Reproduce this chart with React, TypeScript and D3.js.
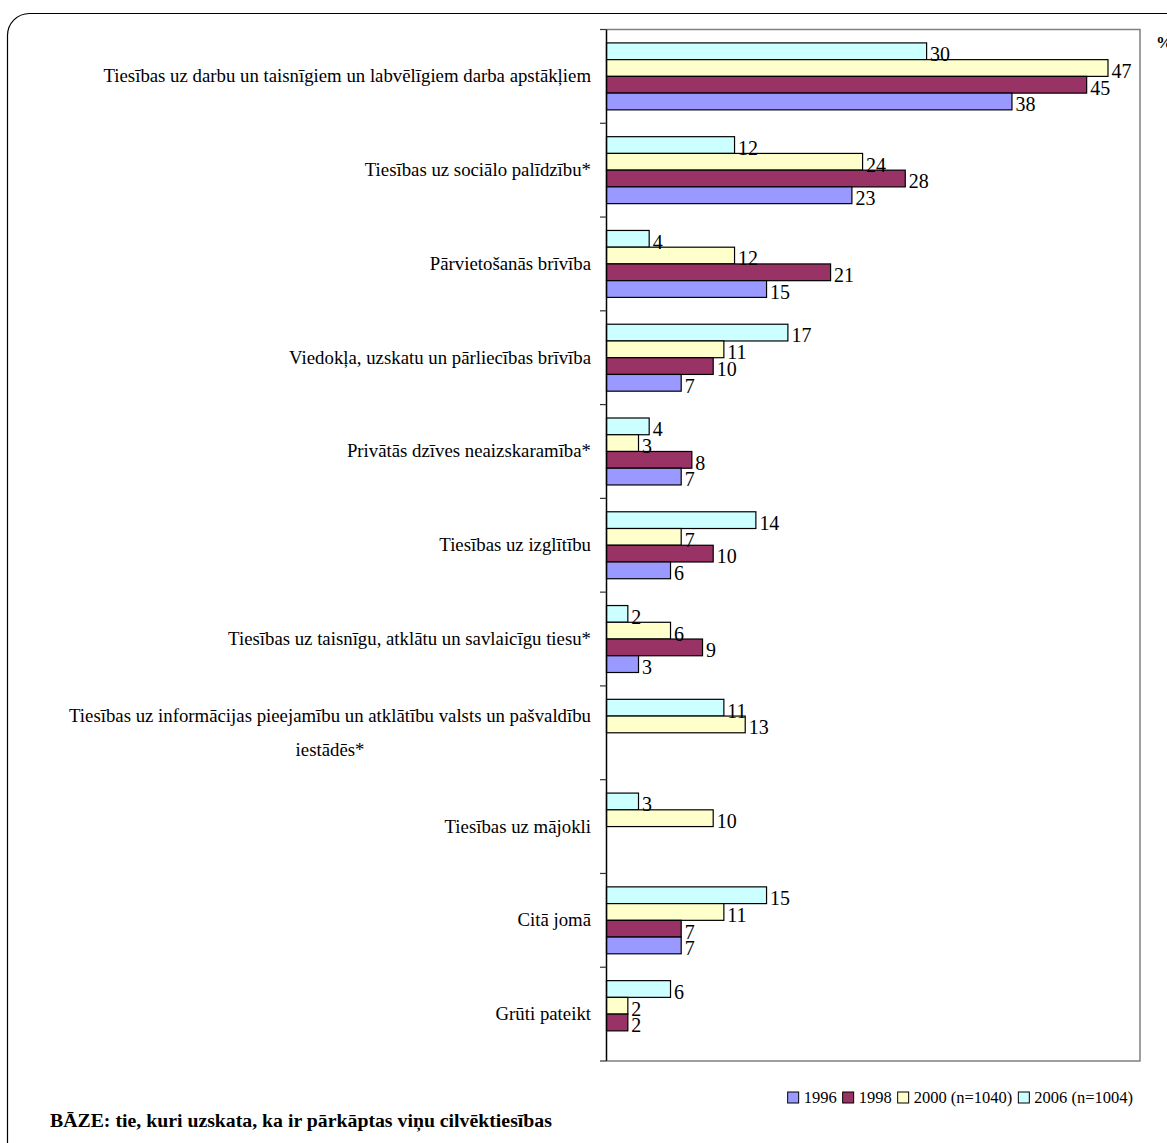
import React, { useEffect, useRef } from "react";
import * as d3 from "d3";

const categories: string[][] = [
  ["Tiesības uz darbu un taisnīgiem un labvēlīgiem darba apstākļiem"],
  ["Tiesības uz sociālo palīdzību*"],
  ["Pārvietošanās brīvība"],
  ["Viedokļa, uzskatu un pārliecības brīvība"],
  ["Privātās dzīves neaizskaramība*"],
  ["Tiesības uz izglītību"],
  ["Tiesības uz taisnīgu, atklātu un savlaicīgu tiesu*"],
  ["Tiesības uz informācijas pieejamību un atklātību valsts un pašvaldību", "iestādēs*"],
  ["Tiesības uz mājokli"],
  ["Citā jomā"],
  ["Grūti pateikt"],
];

const v2006: (number | null)[] = [30, 12, 4, 17, 4, 14, 2, 11, 3, 15, 6];
const v2000: (number | null)[] = [47, 24, 12, 11, 3, 7, 6, 13, 10, 11, 2];
const v1998: (number | null)[] = [45, 28, 21, 10, 8, 10, 9, null, null, 7, 2];
const v1996: (number | null)[] = [38, 23, 15, 7, 7, 6, 3, null, null, 7, null];

const seriesNames = ["2006 (n=1004)", "2000 (n=1040)", "1998", "1996"];
const seriesColors = ["#CCFFFF", "#FFFFCC", "#993366", "#9999FF"];
const seriesValues = [v2006, v2000, v1998, v1996];

const legendOrder = [3, 2, 1, 0];

const xDomain = [0, 50];
const FONT = "'Liberation Serif', 'Times New Roman', serif";

export default function App() {
  const ref = useRef<SVGSVGElement>(null);

  useEffect(() => {
    const svg = d3.select(ref.current);
    svg.selectAll("*").remove();

    const left = 606.5, right = 1140, top = 29.5, bottom = 1061;

    // outer rounded frame
    svg.append("rect")
      .attr("x", 7.5).attr("y", 13.5)
      .attr("width", 1220).attr("height", 1150)
      .attr("rx", 22).attr("ry", 22)
      .attr("fill", "white").attr("stroke", "#000").attr("stroke-width", 1.2);

    const x = d3.scaleLinear().domain(xDomain).range([left, right]);
    const y = d3.scaleBand<number>().domain(d3.range(categories.length)).range([top, bottom]).paddingInner(0).paddingOuter(0);
    const bandH = y.bandwidth();
    const groupPad = 0.143;
    const inner = d3.scaleBand<number>().domain(d3.range(seriesValues.length))
      .range([bandH * groupPad, bandH * (1 - groupPad)]).padding(0);

    // plot area border (gray)
    svg.append("path")
      .attr("d", `M${left},${top}H${right}V${bottom}H${left}`)
      .attr("fill", "none").attr("stroke", "#808080").attr("stroke-width", 1.5);

    // bars
    const gBars = svg.append("g");
    const gLabels = svg.append("g");
    seriesValues.forEach((vals, si) => {
      vals.forEach((v, ci) => {
        if (v == null) return;
        const by = (y(ci) as number) + (inner(si) as number);
        gBars.append("rect")
          .attr("x", x(0)).attr("y", by)
          .attr("width", x(v) - x(0)).attr("height", inner.bandwidth())
          .attr("fill", seriesColors[si]).attr("stroke", "#000").attr("stroke-width", 1.2);
        gLabels.append("text")
          .attr("transform", `translate(${x(v) + 3.5},${by + inner.bandwidth() + 1.5}) scale(0.93,1)`)
          .attr("font-family", FONT).attr("font-size", 21.5)
          .attr("fill", "#000")
          .text(String(v));
      });
    });

    // axis line and ticks
    svg.append("line").attr("x1", left).attr("x2", left).attr("y1", top).attr("y2", bottom)
      .attr("stroke", "#000").attr("stroke-width", 1.5);
    d3.range(categories.length + 1).forEach((i) => {
      const ty = top + i * bandH;
      svg.append("line").attr("x1", left - 6.5).attr("x2", left).attr("y1", ty).attr("y2", ty)
        .attr("stroke", "#333").attr("stroke-width", 1.2);
    });

    // category labels
    const CFS = 18.8;
    categories.forEach((lines, ci) => {
      const cy = (y(ci) as number) + bandH / 2;
      const lh = 34;
      if (lines.length === 1) {
        svg.append("text")
          .attr("x", 591).attr("y", cy + 6)
          .attr("text-anchor", "end")
          .attr("font-family", FONT).attr("font-size", CFS)
          .text(lines[0]);
      } else {
        const t1 = svg.append("text")
          .attr("x", 591).attr("y", cy - lh / 2 + 6)
          .attr("text-anchor", "end")
          .attr("font-family", FONT).attr("font-size", CFS)
          .text(lines[0]);
        const w1 = (t1.node() as SVGTextElement).getComputedTextLength();
        const cx = 591 - w1 / 2;
        lines.slice(1).forEach((ln, li) => {
          svg.append("text")
            .attr("x", cx).attr("y", cy - lh / 2 + 6 + lh * (li + 1))
            .attr("text-anchor", "middle")
            .attr("font-family", FONT).attr("font-size", CFS)
            .text(ln);
        });
      }
    });

    // % unit
    svg.append("text").attr("x", 1156).attr("y", 48)
      .attr("font-family", FONT).attr("font-size", 17).attr("font-weight", "bold")
      .text("%");

    // legend (laid out right-aligned, ending at x = 1133)
    const LFS = 16.5;
    const ly = 1097;
    const items = legendOrder.map((si) => {
      const t = svg.append("text").attr("y", ly + 6)
        .attr("font-family", FONT).attr("font-size", LFS)
        .text(seriesNames[si]);
      const w = (t.node() as SVGTextElement).getComputedTextLength();
      return { si, t, w };
    });
    const sq = 11, gapSq = 5, gapItem = 6;
    const totalW = items.reduce((s, it) => s + sq + gapSq + it.w, 0) + gapItem * (items.length - 1);
    let cx = 1133 - totalW;
    items.forEach((it) => {
      svg.append("rect").attr("x", cx).attr("y", ly - 5).attr("width", sq).attr("height", sq)
        .attr("fill", seriesColors[it.si]).attr("stroke", "#000").attr("stroke-width", 1);
      it.t.attr("x", cx + sq + gapSq);
      cx += sq + gapSq + it.w + gapItem;
    });

    // base note
    svg.append("text").attr("x", 50).attr("y", 1127)
      .attr("font-family", FONT).attr("font-size", 19.8).attr("font-weight", "bold")
      .text("BĀZE: tie, kuri uzskata, ka ir pārkāptas viņu cilvēktiesības");
  }, []);

  return (
    <svg ref={ref} width={1167} height={1143}
      style={{ position: "absolute", left: 0, top: 0, display: "block", background: "white" }} />
  );
}
